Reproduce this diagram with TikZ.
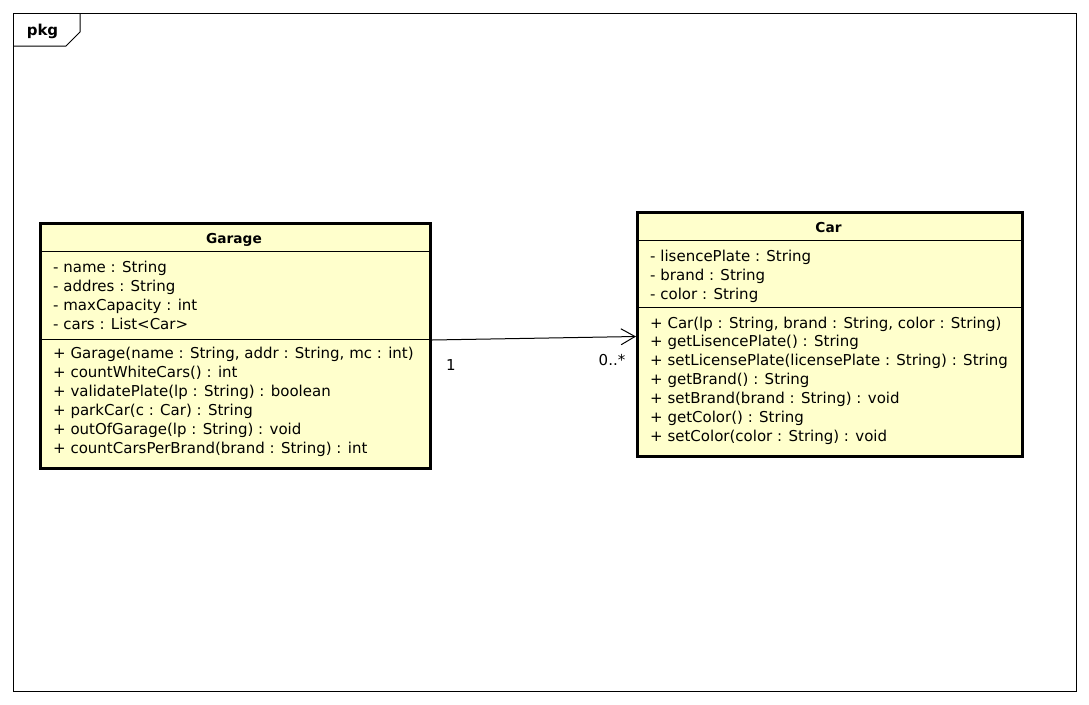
\documentclass[tikz,border=0pt]{standalone}
\usepackage{fontspec}
\setmainfont{DejaVu Sans}
\usetikzlibrary{arrows.meta,calc}
\definecolor{umlfill}{RGB}{255,255,204}
\tikzset{
  classbox/.style={draw=black, line width=3pt, fill=umlfill, inner sep=0pt, rectangle},
  sepline/.style={draw=black, line width=1pt},
  row/.style={anchor=base west, inner sep=0pt, font=\fontsize{15}{17}\selectfont},
  head/.style={anchor=base, inner sep=0pt, font=\fontsize{13.7}{16}\selectfont\bfseries},
  mult/.style={anchor=base, inner sep=0pt, font=\fontsize{15}{17}\selectfont},
  assoc/.style={draw=black, line width=1pt, -{Straight Barb[length=14pt,width=16pt,line width=1pt]}}
}
\begin{document}
\begin{tikzpicture}[x=1pt,y=-1pt]
\useasboundingbox (0,0) rectangle (1089,704);
% frame
\draw[line width=1pt] (13,13) rectangle (1076,691);
\draw[line width=1pt] (13,46) -- (66,46) -- (80,32) -- (80,13);
\node[head, font=\fontsize{15}{16}\selectfont\bfseries] (pkg) at (42.5,35.5) {pkg};
% Garage
\node[classbox, minimum width=390pt, minimum height=245pt, anchor=north west] (garage) at (39,222) {};
\draw[sepline] (39,251) -- (429,251);
\draw[sepline] (39,339) -- (429,339);
\node[head] (gtitle) at (234,243) {Garage};
\foreach \t [count=\i] in {{- name : String},{- addres : String},{- maxCapacity : int},{- cars : List<Car>}}
  \node[row] (ga\i) at (53,{272+19*(\i-1)}) {\t};
\foreach \t [count=\i] in {{+ Garage(name : String, addr : String, mc : int)},{+ countWhiteCars() : int},{+ validatePlate(lp : String) : boolean},{+ parkCar(c : Car) : String},{+ outOfGarage(lp : String) : void},{+ countCarsPerBrand(brand : String) : int}}
  \node[row] (gm\i) at (53,{358+19*(\i-1)}) {\t};
% Car
\node[classbox, minimum width=385pt, minimum height=244pt, anchor=north west] (car) at (636,211) {};
\draw[sepline] (636,240) -- (1021,240);
\draw[sepline] (636,307) -- (1021,307);
\node[head] (ctitle) at (828.5,232) {Car};
\foreach \t [count=\i] in {{- lisencePlate : String},{- brand : String},{- color : String}}
  \node[row] (ca\i) at (650,{261+19*(\i-1)}) {\t};
\foreach \t [count=\i] in {{+ Car(lp : String, brand : String, color : String)},{+ getLisencePlate() : String},{+ setLicensePlate(licensePlate : String) : String},{+ getBrand() : String},{+ setBrand(brand : String) : void},{+ getColor() : String},{+ setColor(color : String) : void}}
  \node[row] (cm\i) at (650,{328+18.85*(\i-1)}) {\t};
% association
\coordinate (s) at (garage.east |- 0,340);
\coordinate (e) at (car.west |- 0,336.5);
\draw[assoc] (s) -- (e);
\node[mult] (m1) at (451,370) {1};
\node[mult] (m2) at (612,365) {0..*};
\end{tikzpicture}
\end{document}
